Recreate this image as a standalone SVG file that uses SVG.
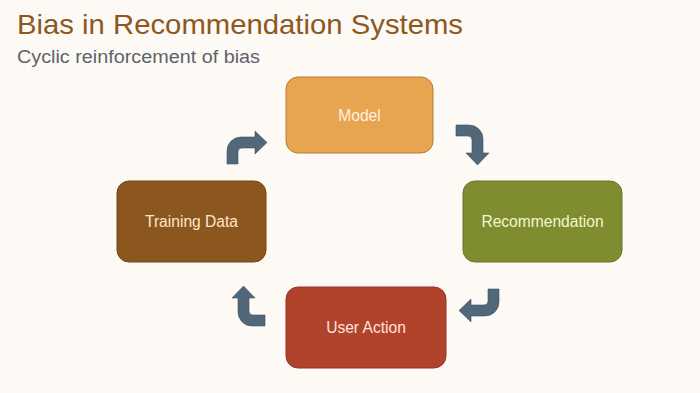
<svg xmlns="http://www.w3.org/2000/svg" width="700" height="393" viewBox="0 0 700 393">
  <defs>
    <style>
      .title { font-family: "Liberation Sans", Arial, sans-serif; font-size: 28.5px; fill: #8c581e; }
      .subtitle { font-family: "Liberation Sans", Arial, sans-serif; font-size: 18px; fill: #5d636b; }
      .box { stroke-width: 1; }
      .label { font-family: "Liberation Sans", Arial, sans-serif; font-size: 15.6px; text-anchor: middle; }
      .bent { fill: #51677a; stroke: #3f5161; stroke-width: 0.6; }
    </style>
    <!-- bent arrow: tail at bottom-left, turns right; tip points +x -->
    <path id="bentArrow" d="M0,33 L0,20 A14,14 0 0 1 14,6 L28,6 L28,0 L40,11.5 L28,23 L28,17 L15,17 A4,4 0 0 0 11,21 L11,33 Z"/>
  </defs>

  <rect x="0" y="0" width="700" height="393" fill="#fdf9f5"/>

  <text class="title" x="17" y="34" textLength="446" lengthAdjust="spacingAndGlyphs">Bias in Recommendation Systems</text>
  <text class="subtitle" x="17" y="63" textLength="243" lengthAdjust="spacingAndGlyphs">Cyclic reinforcement of bias</text>

  <g id="model">
    <rect class="box" x="286" y="77" width="147" height="76" rx="12" fill="#e8a450" stroke="#b67c32"/>
    <text class="label" x="359.5" y="121" fill="#fff2e2">Model</text>
  </g>

  <g id="recommendation">
    <rect class="box" x="463" y="181" width="159" height="81" rx="12" fill="#7f8d30" stroke="#6a7726"/>
    <text class="label" x="542.5" y="227" fill="#f2f6cc">Recommendation</text>
  </g>

  <g id="user-action">
    <rect class="box" x="286" y="287" width="160" height="81" rx="12" fill="#b1432d" stroke="#963522"/>
    <text class="label" x="366" y="333" fill="#ffe3da">User Action</text>
  </g>

  <g id="training-data">
    <rect class="box" x="117" y="181" width="149" height="81" rx="12" fill="#8c571f" stroke="#744616"/>
    <text class="label" x="191.5" y="227" fill="#ffe6c6">Training Data</text>
  </g>

  <g id="connectors">
    <use href="#bentArrow" class="bent" transform="translate(227,131)"/>
    <use href="#bentArrow" class="bent" transform="translate(489,125) rotate(90)"/>
    <use href="#bentArrow" class="bent" transform="translate(499,322) rotate(180)"/>
    <use href="#bentArrow" class="bent" transform="translate(232,326) rotate(-90)"/>
  </g>
</svg>
